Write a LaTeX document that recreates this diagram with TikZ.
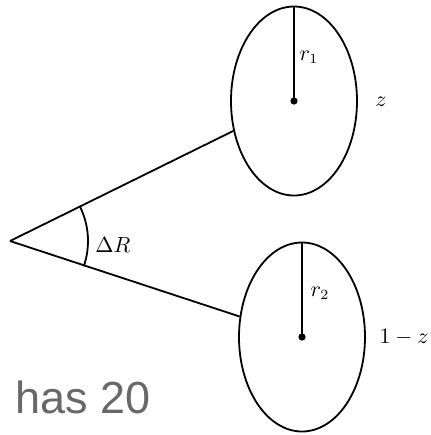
\documentclass[tikz,border=0pt]{standalone}
\usepackage{fontspec}
\newfontfamily\hasfont{Liberation Sans}
\usetikzlibrary{shapes.geometric}
\definecolor{hasgray}{RGB}{104,104,104}
\begin{document}
\begin{tikzpicture}[x=0.5pt,y=-0.5pt,
  line width=0.9pt,
  blob/.style={draw,ellipse,inner sep=0pt,minimum width=63pt,minimum height=94.5pt},
  lbl/.style={inner sep=0pt,font=\fontsize{10.5}{12}\selectfont},
  dotmark/.style={fill,circle,inner sep=0pt,minimum size=3.6pt}]
\useasboundingbox (0,0) rectangle (431,435);
\node[blob] (e1) at (294,101) {};
\node[blob] (e2) at (302,337) {};
\coordinate (apex) at (10,241);
\draw (apex) -- (e1);
\draw (apex) -- (e2);
\draw (e1.center) -- (e1.north);
\draw (e2.center) -- (e2.north);
\node[dotmark] (d1) at (e1.center) {};
\node[dotmark] (d2) at (e2.center) {};
\draw ([shift={(26.2:39pt)}]apex) arc[start angle=26.2, end angle=-18.8, radius=39pt];
\node[lbl] (r1) at (309,57) {$r_1$};
\node[lbl] (z) at (381,102) {$z$};
\node[lbl] (dr) at (113,245) {$\Delta R$};
\node[lbl] (r2) at (320,293) {$r_2$};
\node[lbl] (omz) at (404,337) {$1-z$};
\node[anchor=base west,inner sep=0pt,text=hasgray,font=\hasfont\fontsize{22.5}{26}\selectfont] (has) at (15,413) {has 20};
\end{tikzpicture}
\end{document}
